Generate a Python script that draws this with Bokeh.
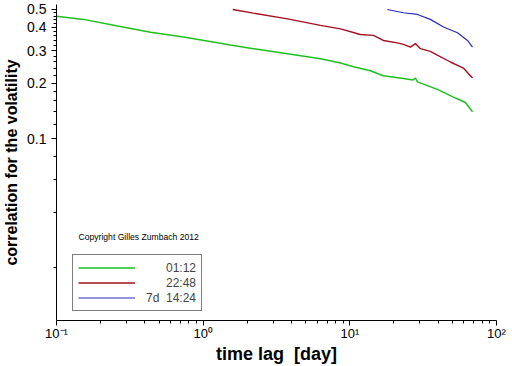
from bokeh.plotting import figure
from bokeh.models import FixedTicker, Legend, LegendItem, Label
from bokeh.embed import file_html
from bokeh.resources import INLINE

# ---- data ----
green_x = [0.1, 0.153, 0.261, 0.438, 0.735, 1.25, 1.53, 2.20, 3.76, 6.31, 8.64, 10.6, 13.8, 16.9, 23.2, 27.0, 28.0, 28.9, 39.5, 50.8, 61.4, 68.6]
green_y = [0.46, 0.442, 0.407, 0.377, 0.355, 0.330, 0.321, 0.307, 0.288, 0.271, 0.257, 0.245, 0.233, 0.219, 0.212, 0.208, 0.213, 0.203, 0.185, 0.168, 0.157, 0.140]

red_x = [1.59, 2.20, 3.76, 6.31, 8.64, 11.8, 14.5, 16.9, 21.1, 23.2, 25.9, 28.0, 30.3, 35.4, 39.5, 48.5, 59.4, 68.6]
red_y = [0.50, 0.478, 0.445, 0.410, 0.393, 0.366, 0.362, 0.340, 0.330, 0.324, 0.313, 0.327, 0.307, 0.297, 0.283, 0.260, 0.241, 0.213]

blue_x = [18.0, 23.2, 28.9, 35.4, 43.5, 54.2, 63.4, 68.6]
blue_y = [0.50, 0.480, 0.470, 0.442, 0.402, 0.374, 0.340, 0.313]

series_labels = ["01:12", "22:48", "7d  14:24"]
x_major = [0.1, 1, 10, 100]
x_major_labels = ["10\u207b\u00b9", "10\u2070", "10\u00b9", "10\u00b2"]
x_minor = [m * d for d in [0.1, 1, 10] for m in range(2, 10)]
y_major = [0.1, 0.2, 0.3, 0.4, 0.5]
y_major_labels = ["0.1", "0.2", "0.3", "0.4", "0.5"]
y_minor = [0.02, 0.04, 0.06, 0.08] + [round(0.1 + 0.02 * k, 2) for k in range(1, 21)]

FONT = "Liberation Sans"

p = figure(width=512, height=366, x_axis_type="log", y_axis_type="log",
           x_range=(0.1, 100), y_range=(0.0104, 0.532),
           output_backend="svg", toolbar_location=None,
           min_border_left=56, min_border_right=16, min_border_top=4, min_border_bottom=46)
p.outline_line_color = None
p.xgrid.visible = False
p.ygrid.visible = False
p.background_fill_color = "white"

g = p.line(green_x, green_y, line_color="#1fbf1f", line_width=1.5)
r = p.line(red_x, red_y, line_color="#a3101f", line_width=1.4)
b = p.line(blue_x, blue_y, line_color="#2a2ab8", line_width=1.2)

for ax in (p.xaxis[0], p.yaxis[0]):
    ax.axis_line_color = "black"
    ax.major_tick_line_color = "black"
    ax.minor_tick_line_color = "black"
    ax.major_tick_in = 0
    ax.minor_tick_in = 0
    ax.major_tick_out = 5
    ax.minor_tick_out = 3
    ax.major_label_text_font = FONT
    ax.major_label_text_color = "black"
    ax.axis_label_text_font = FONT
    ax.axis_label_text_font_style = "bold"
    ax.axis_label_text_color = "black"

p.xaxis[0].ticker = FixedTicker(ticks=x_major, minor_ticks=x_minor)
p.xaxis[0].major_label_overrides = dict(zip(x_major, x_major_labels))
p.xaxis[0].major_label_text_font_size = "13px"
p.xaxis[0].major_label_standoff = 0
p.xaxis[0].axis_label = "time lag\u00a0 [day]"
p.xaxis[0].axis_label_text_font_size = "18px"
p.xaxis[0].axis_label_standoff = 0

p.yaxis[0].ticker = FixedTicker(ticks=y_major, minor_ticks=y_minor)
p.yaxis[0].major_label_overrides = dict(zip(y_major, y_major_labels))
p.yaxis[0].major_label_text_font_size = "14px"
p.yaxis[0].major_label_standoff = 5
p.yaxis[0].axis_label = "correlation for the volatility"
p.yaxis[0].axis_label_text_font_size = "16px"
p.yaxis[0].axis_label_standoff = 4

pad = "\u00a0" * 6
legend = Legend(items=[LegendItem(label=pad + series_labels[0], renderers=[g]),
                       LegendItem(label=pad + series_labels[1], renderers=[r]),
                       LegendItem(label=series_labels[2].replace(" ", "\u00a0"), renderers=[b])],
                location=(16, 9), orientation="vertical",
                glyph_width=57, glyph_height=15, label_height=15, spacing=0,
                padding=5, margin=0, label_standoff=11,
                label_text_font=FONT, label_text_font_size="12px",
                border_line_color="black", border_line_width=1,
                background_fill_color="white", background_fill_alpha=1.0)
p.add_layout(legend, "center")

p.add_layout(Label(x=22, y=84, x_units="screen", y_units="screen",
                   text="Copyright Gilles Zumbach 2012", text_font=FONT,
                   text_font_size="8.6px", text_color="black",
                   text_baseline="alphabetic"))

open("out.html", "w").write(file_html(p, INLINE))
